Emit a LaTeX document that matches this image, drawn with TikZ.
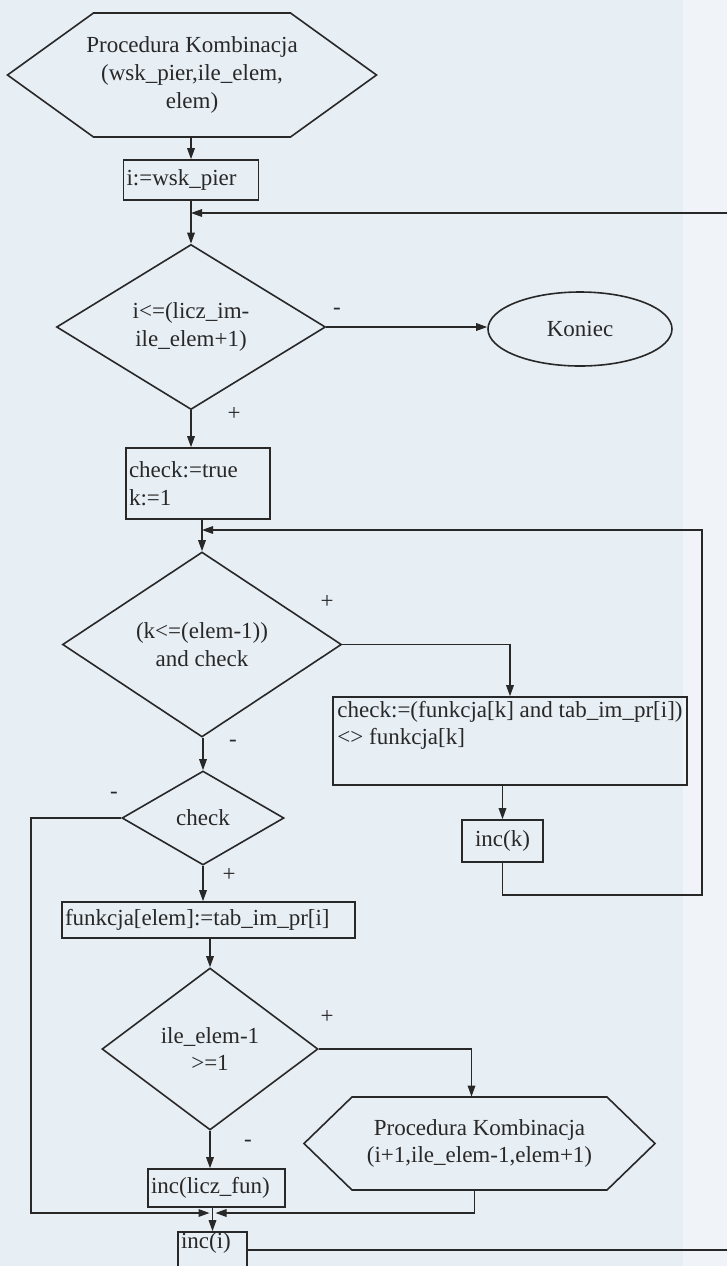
\documentclass[tikz,border=0pt]{standalone}
\usepackage{fontspec}
\setmainfont{Liberation Serif}
\usetikzlibrary{shapes.geometric,arrows.meta,positioning,calc}
\definecolor{scan}{RGB}{231,238,244}
\definecolor{scanedge}{RGB}{240,244,248}
\definecolor{ink}{RGB}{40,40,40}
% hexagon round a node: half width, half height, point inset (picture units)
\providecommand{\hexout}{}
\renewcommand{\hexout}[4]{%
  \draw[shp] ($(#1.center)+(-#2-#4,0)$) -- ($(#1.center)+(-#2,-#3)$)
    -- ($(#1.center)+(#2,-#3)$) -- ($(#1.center)+(#2+#4,0)$)
    -- ($(#1.center)+(#2,#3)$) -- ($(#1.center)+(-#2,#3)$) -- cycle;}

\begin{document}
\begin{tikzpicture}[x=0.5pt,y=-0.5pt,
  font=\fontsize{11.5}{13.8}\selectfont, text=ink,
  shp/.style={draw=ink,line width=0.8pt},
  box/.style={shp,rectangle,align=left,inner xsep=1.5pt,inner ysep=0pt},
  dec/.style={shp,diamond,align=center,inner sep=0pt},
  hexa/.style={rectangle,align=center,inner sep=0pt},
  term/.style={shp,ellipse,inner sep=0pt},
  lbl/.style={inner sep=0pt},
  ar/.style={-{Triangle[length=5.5pt,width=3.8pt]},draw=ink,line width=0.65pt}]

\useasboundingbox (0,0) rectangle (727,1266);
\fill[scan] (0,0) rectangle (727,1266);
\fill[scanedge] (683,0) rectangle (727,1266);
\clip (0,0) rectangle (727,1266);

% main column
\node[hexa,minimum height=62pt] (start) at (192,75)
   {Procedura Kombinacja\\(wsk\_pier,ile\_elem,\\elem)};
\hexout{start}{98.5}{62}{86}
\node[box,text width=64.5pt,minimum height=20pt] (init) at (191,180) {i:=wsk\_pier};
\node[dec,minimum width=134.5pt,minimum height=82pt] (d1) at (191,327)
   {i<=(licz\_im-\\ile\_elem+1)};
\node[term,minimum width=92pt,minimum height=37pt] (stop) at (580,329) {Koniec};
\node[box,text width=69pt,minimum height=35.5pt] (setk) at (198,483.5) {check:=true\\k:=1};
\node[dec,minimum width=139.5pt,minimum height=92.5pt] (d2) at (202,644.5)
   {(k<=(elem-1))\\and check};
\node[box,minimum width=177pt,minimum height=44pt] (upd) at (510,741)
   {check:=(funkcja[k] and tab\_im\_pr[i])\\<> funkcja[k]\\\strut};
\node[box,text width=37.5pt,minimum height=21pt,align=center] (inck) at (502.5,841) {inc(k)};
\node[dec,minimum width=81pt,minimum height=47pt] (dchk) at (203,818) {check};
\node[box,text width=143.5pt,minimum height=18pt] (assign) at (208.5,920)
   {funkcja[elem]:=tab\_im\_pr[i]};
\node[dec,minimum width=108pt,minimum height=81pt] (d3) at (210,1049) {ile\_elem-1\\>=1};
\node[hexa,minimum width=127.5pt,minimum height=46.5pt] (call) at (479.5,1143.5)
   {Procedura Kombinacja\\(i+1,ile\_elem-1,elem+1)};
\hexout{call}{127.5}{46.5}{48}
\node[box,text width=65.5pt,minimum height=19pt] (incf) at (216.5,1188) {inc(licz\_fun)};
\node[box,text width=31.5pt,text height=8pt,text depth=16pt] (inci) at (212.5,1256) {inc(i)};

% branch labels
\node[lbl] (m1) at (337,311) {-};
\node[lbl] (p1) at (234,414) {+};
\node[lbl] (p2) at (327,602) {+};
\node[lbl] (m2) at (233,743) {-};
\node[lbl] (m3) at (114,795) {-};
\node[lbl] (p3) at (229,875) {+};
\node[lbl] (p4) at (327,1017) {+};
\node[lbl] (m4) at (248,1143) {-};

% loop corners
\coordinate (redge) at (727,213);
\coordinate (kbot)  at (702,895);
\coordinate (kret)  at (202,530);
\coordinate (lcor)  at (31,1213);
\coordinate (join)  at (212.5,1213);
\coordinate (ecor)  at (727,1250);

\foreach \a/\b in {start/init, init/d1, setk/d2, d2/dchk, assign/d3, incf/inci}
  \draw[ar] (\b.north |- \a.south) -- (\b.north);
\foreach \a/\b in {d1/setk, dchk/assign, d3/incf}
  \draw[ar] (\a.south) -- (\a.south |- \b.north);

\draw[ar] (d1.east) -- (d1.east -| stop.west);
\draw[ar] (redge) -- (init.south |- redge);
\draw[ar] (d2.east) -| (upd.north);
\draw[ar] (upd.south -| inck.north) -- (inck.north);
\draw[ar] (inck.south) |- (kbot) |- (kret);
\draw[ar] (dchk.west) -| (lcor) -- ([xshift=-1.5pt]join);
\draw[ar] (d3.east) -| ([xshift=-4pt]call.north);
\draw[ar] ([xshift=-2.5pt]call.south) |- ([xshift=1.5pt]join);
\draw[ink,line width=0.65pt] (inci.east |- ecor) -- (ecor);
\end{tikzpicture}
\end{document}
